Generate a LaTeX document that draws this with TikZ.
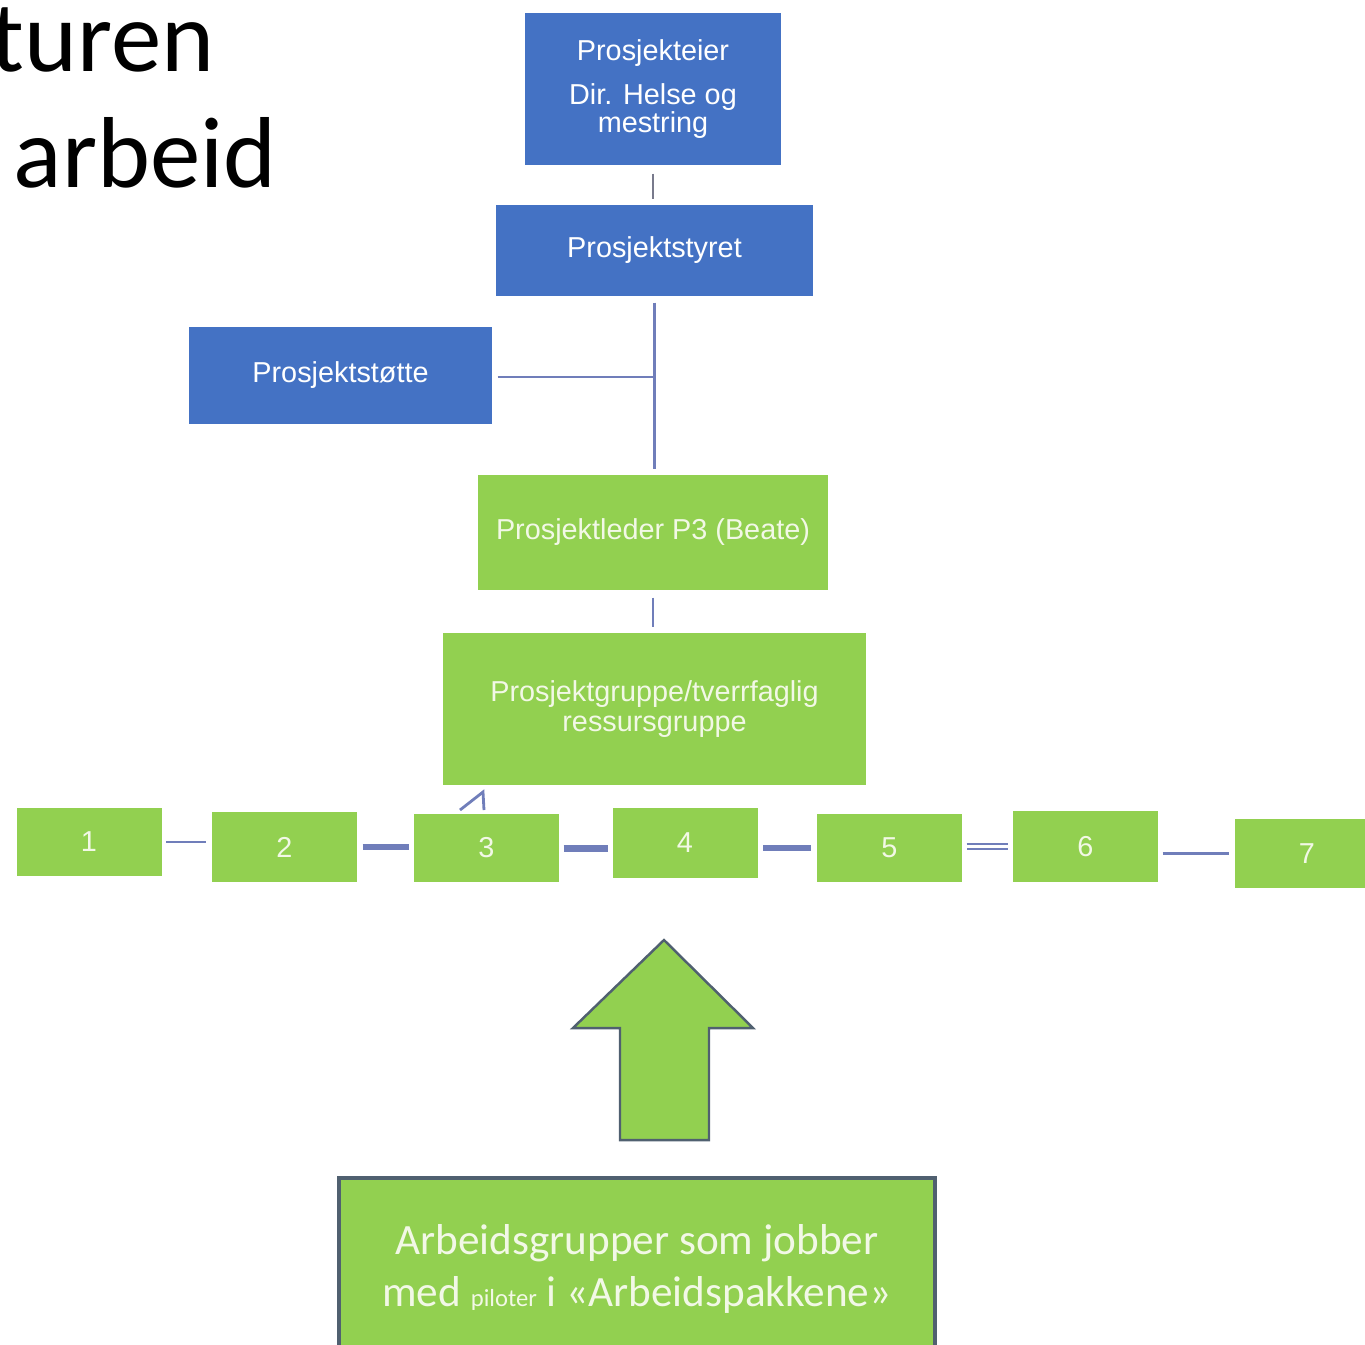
\documentclass[tikz,border=0pt]{standalone}
\usepackage{fontspec}
\setmainfont{Liberation Sans}
\newfontfamily\calibri{Carlito}
\definecolor{boxblue}{RGB}{68,114,196}
\definecolor{boxgreen}{RGB}{146,208,80}
\definecolor{paletext}{RGB}{242,248,230}
\definecolor{linkblue}{RGB}{112,126,186}
\definecolor{linkgray}{RGB}{120,122,140}
\definecolor{edgegray}{RGB}{80,96,112}
\tikzset{
  bluebox/.style={rectangle, fill=boxblue, text=white, inner sep=0pt, align=center,
    font=\fontsize{8.2}{8}\selectfont},
  greenbox/.style={rectangle, fill=boxgreen, text=paletext, inner sep=0pt, align=center,
    font=\fontsize{8.2}{8.6}\selectfont},
  numbox/.style={greenbox, minimum width=1.45cm, minimum height=0.69cm},
  link/.style={draw=linkblue, line width=0.8pt},
  thicklink/.style={draw=linkblue, line width=1.6pt},
}
\begin{document}
\begin{tikzpicture}
    \useasboundingbox (0,0) rectangle (13.65,-13.44);

    \node[anchor=base east, font=\calibri\fontsize{28.7}{30}\selectfont] (tit1) at (2.27,-0.71) {turen};
    \node[anchor=base east, font=\calibri\fontsize{28.7}{30}\selectfont] (tit2) at (2.89,-1.87) {arbeid};

    \node[bluebox, minimum width=2.56cm, minimum height=1.52cm] (eier) at (6.53,-0.89) {Prosjekteier\\[4.5pt]Dir. Helse og\\mestring};
    \node[bluebox, minimum width=3.17cm, minimum height=0.91cm] (styret) at (6.545,-2.505) {Prosjektstyret};
    \node[bluebox, minimum width=3.03cm, minimum height=0.97cm] (stotte) at (3.405,-3.755) {Prosjektstøtte};
    \node[greenbox, minimum width=3.50cm, minimum height=1.15cm] (leder) at (6.53,-5.325) {Prosjektleder P3 (Beate)};
    \node[greenbox, minimum width=4.23cm, minimum height=1.52cm] (gruppe) at (6.545,-7.09) {Prosjektgruppe/tverrfaglig\\ressursgruppe};

    \coordinate (junc) at (6.54,-3.77);
    \draw[draw=linkgray, line width=0.8pt, shorten <=0.08cm, shorten >=0.05cm] (eier.south) -- (eier.south |- styret.north);
    \draw[link, shorten <=0.06cm, shorten >=0.05cm] (styret.south) -- (styret.south |- leder.north);
    \draw[link, shorten <=0.05cm] (stotte.east |- junc) -- (junc);
    \draw[link, shorten <=0.07cm, shorten >=0.05cm] (leder.south) -- (leder.south |- gruppe.north);

    \node[numbox, minimum height=0.68cm] (n1) at (0.89,-8.42) {1};
    \node[numbox, minimum height=0.70cm] (n2) at (2.845,-8.47) {2};
    \node[numbox, minimum height=0.68cm] (n3) at (4.865,-8.48) {3};
    \node[numbox, minimum height=0.70cm] (n4) at (6.85,-8.43) {4};
    \node[numbox, minimum height=0.68cm] (n5) at (8.895,-8.48) {5};
    \node[numbox, minimum height=0.71cm] (n6) at (10.855,-8.465) {6};
    \node[numbox, minimum height=0.69cm] (n7) at (13.07,-8.535) {7};

    \draw[link, shorten <=0.04cm, shorten >=0.05cm] (n1.east) -- (n1.east -| n2.west);
    \draw[thicklink, shorten <=0.05cm, shorten >=0.04cm] (n2.east) -- (n2.east -| n3.west);
    \draw[thicklink, line width=2pt, shorten <=0.04cm, shorten >=0.04cm] (n3.east) -- (n3.east -| n4.west);
    \draw[thicklink, shorten <=0.05cm, shorten >=0.05cm] (n4.east |- n5.west) -- (n5.west);
    \draw[thicklink, double, line width=0.6pt, double distance=0.8pt, shorten <=0.04cm, shorten >=0.04cm] (n5.east |- n6.west) -- (n6.west);
    \draw[link, shorten <=0.04cm, shorten >=0.05cm] (n6.east |- n7.west) -- (n7.west);

    \coordinate (tick) at (4.83,-7.92);
    \draw[link] (4.60,-8.10) -- (tick) -- (4.84,-8.10);

    \draw[fill=boxgreen, draw=edgegray, line width=0.7pt] (6.64,-9.40) -- (7.53,-10.28) -- (7.09,-10.28) -- (7.09,-11.40) -- (6.20,-11.40) -- (6.20,-10.28) -- (5.73,-10.28) -- cycle;

    \node[rectangle, fill=boxgreen, draw=edgegray, line width=0.9pt, text=paletext, align=center,
      minimum width=5.96cm, minimum height=1.82cm, font=\calibri\fontsize{12.3}{14.8}\selectfont] (arbeid) at (6.37,-12.69)
      {Arbeidsgrupper som jobber\\med {\fontsize{7}{7}\selectfont piloter} i «Arbeidspakkene»};
\end{tikzpicture}
\end{document}
